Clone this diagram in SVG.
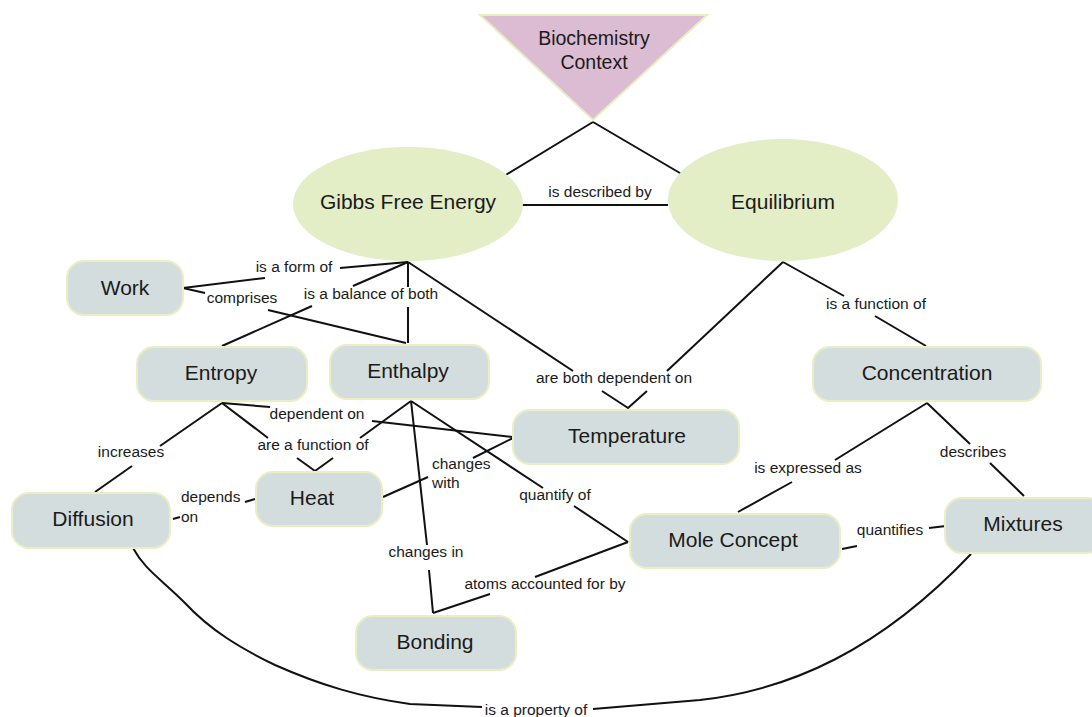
<svg xmlns="http://www.w3.org/2000/svg" width="1092" height="717" viewBox="0 0 1092 717">
<style>
.n{fill:#d4dddd;stroke:#e9eec4;stroke-width:2}
.e{fill:#e3edc6;stroke:none}
.t{font-family:"Liberation Sans",Arial,sans-serif;font-size:21px;fill:#1a1a1a;text-anchor:middle}
.l{font-family:"Liberation Sans",Arial,sans-serif;font-size:15.5px;fill:#1a1a1a;text-anchor:middle}
.ls{font-family:"Liberation Sans",Arial,sans-serif;font-size:15.5px;fill:#1a1a1a;text-anchor:start}
.c{stroke:#111;stroke-width:2;fill:none;stroke-linejoin:round}
</style>
<rect width="1092" height="717" fill="#ffffff"/>
<g id="connectors">
<path class="c" d="M593,122 L504,176 M593,122 L685,176"/>
<path class="c" d="M522,205 L668,205"/>
<path class="c" d="M408,262 L340,268 M265,278 L183,288"/>
<path class="c" d="M183,288 L205,293 M268,310 L406,343"/>
<path class="c" d="M408,262 L353,286 M408,262 L408,287 M408,307 L408,343 M312,306 L222,346"/>
<path class="c" d="M408,262 L573,371 M783,262 L667,371 M602,391 L628,408 L647,391"/>
<path class="c" d="M783,262 L844,296 M875,316 L926,346"/>
<path class="c" d="M222,403 L270,407 M372,421 L513,437"/>
<path class="c" d="M222,403 L268,438 M411,401 L360,438 M297,458 L315,471 L333,458"/>
<path class="c" d="M222,403 L160,446 M132,466 L95,492"/>
<path class="c" d="M255,499 L245,502 M173,519 L180,517"/>
<path class="c" d="M383,497 L428,477 M473,458 L513,438"/>
<path class="c" d="M411,401 L427,545 M429,570 L433,613"/>
<path class="c" d="M411,401 L543,488 M574,506 L628,542"/>
<path class="c" d="M628,542 L535,577 M490,594 L433,613"/>
<path class="c" d="M927,403 L835,460 M792,482 L738,512"/>
<path class="c" d="M927,403 L970,444 M990,463 L1024,496"/>
<path class="c" d="M842,549 L857,546 M929,528 L946,526"/>
<path class="c" d="M133,548 C145,570 160,578 185,603 C210,630 240,648 275,665 C320,685 360,697 410,704 L482,707"/>
<path class="c" d="M593,709 L700,700 C790,690 880,650 971,554"/>
</g>
<g id="labels">
<text class="l" x="600" y="197">is described by</text>
<text class="l" x="294" y="272">is a form of</text>
<text class="l" x="242" y="303">comprises</text>
<text class="l" x="371" y="299">is a balance of both</text>
<text class="l" x="614" y="383">are both dependent on</text>
<text class="l" x="876" y="309">is a function of</text>
<text class="l" x="317" y="419">dependent on</text>
<text class="l" x="313" y="450">are a function of</text>
<text class="l" x="131" y="457">increases</text>
<text class="ls" x="181" y="502">depends</text>
<text class="ls" x="181" y="522">on</text>
<text class="ls" x="432" y="469">changes</text>
<text class="ls" x="432" y="488">with</text>
<text class="l" x="426" y="557">changes in</text>
<text class="l" x="555" y="500">quantify of</text>
<text class="l" x="545" y="589">atoms accounted for by</text>
<text class="l" x="808" y="473">is expressed as</text>
<text class="l" x="973" y="457">describes</text>
<text class="l" x="890" y="535">quantifies</text>
<text class="l" x="536" y="715">is a property of</text>
</g>
<g id="biochemistry">
<polygon points="480,15 707,15 593,120" fill="#dbbcd2" stroke="#e9eec4" stroke-width="2"/>
<text class="t" style="font-size:19.5px" x="594" y="45">Biochemistry</text>
<text class="t" style="font-size:19.5px" x="594" y="69">Context</text>
</g>
<g id="gibbs"><ellipse class="e" cx="408" cy="204" rx="115" ry="57"/><text class="t" x="408" y="209">Gibbs Free Energy</text></g>
<g id="equilibrium"><ellipse class="e" cx="783" cy="200" rx="115" ry="61"/><text class="t" x="783" y="209">Equilibrium</text></g>
<g id="work"><rect class="n" x="67" y="261" width="116" height="54" rx="17"/><text class="t" x="125" y="295">Work</text></g>
<g id="entropy"><rect class="n" x="137" y="347" width="170" height="54" rx="17"/><text class="t" x="221" y="380">Entropy</text></g>
<g id="enthalpy"><rect class="n" x="330" y="345" width="159" height="54" rx="17"/><text class="t" x="408" y="378">Enthalpy</text></g>
<g id="temperature"><rect class="n" x="513" y="410" width="226" height="54" rx="17"/><text class="t" x="627" y="443">Temperature</text></g>
<g id="concentration"><rect class="n" x="813" y="347" width="228" height="54" rx="17"/><text class="t" x="927" y="380">Concentration</text></g>
<g id="heat"><rect class="n" x="256" y="472" width="126" height="54" rx="17"/><text class="t" x="312" y="505">Heat</text></g>
<g id="diffusion"><rect class="n" x="12" y="493" width="158" height="55" rx="17"/><text class="t" x="93" y="526">Diffusion</text></g>
<g id="mole"><rect class="n" x="630" y="514" width="210" height="54" rx="17"/><text class="t" x="733" y="547">Mole Concept</text></g>
<g id="mixtures"><rect class="n" x="945" y="498" width="160" height="55" rx="17"/><text class="t" x="1023" y="531">Mixtures</text></g>
<g id="bonding"><rect class="n" x="356" y="616" width="160" height="54" rx="17"/><text class="t" x="435" y="649">Bonding</text></g>
</svg>
